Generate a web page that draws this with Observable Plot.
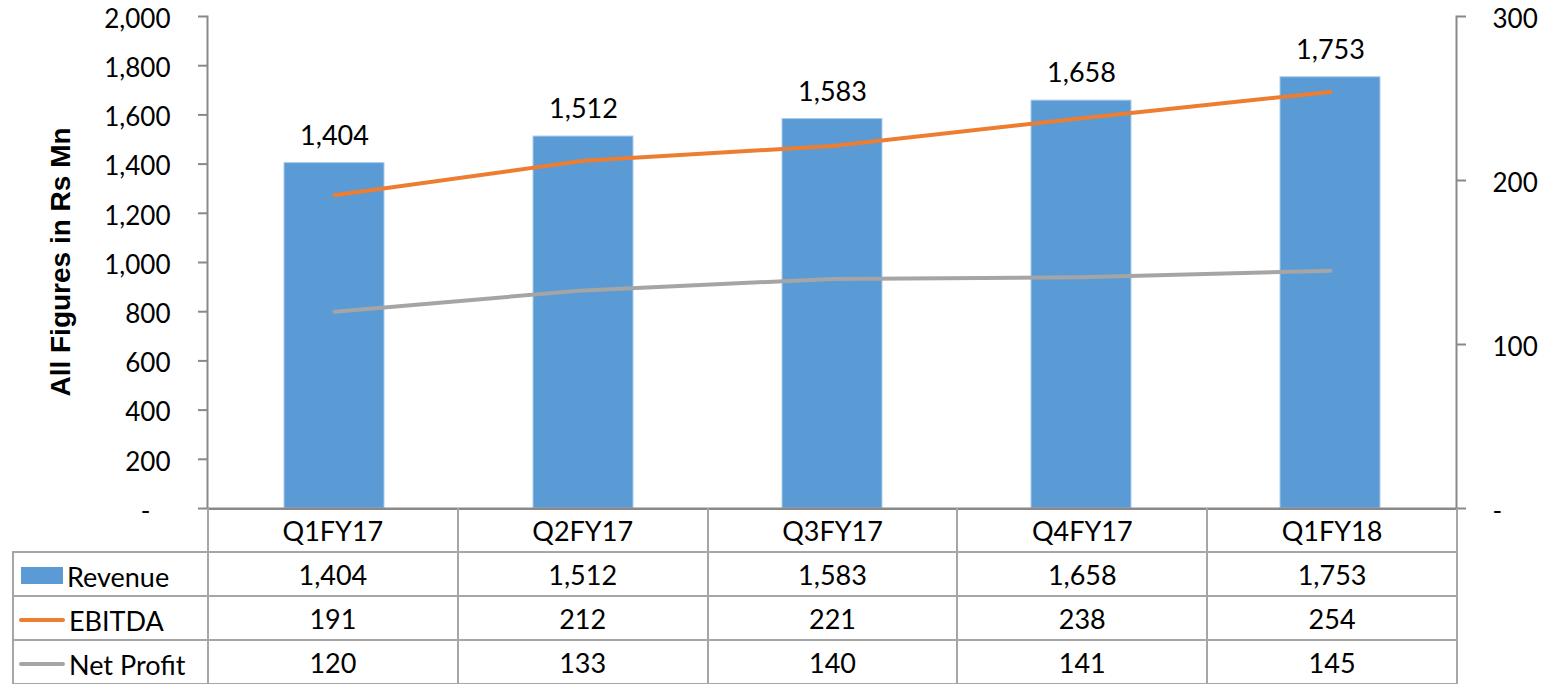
<!DOCTYPE html>
<html>
<head>
<meta charset="utf-8">
<script src="https://cdn.jsdelivr.net/npm/d3@7"></script>
<script src="https://cdn.jsdelivr.net/npm/@observablehq/plot@0.6"></script>
<style>
  html, body { margin: 0; padding: 0; background: #fff; }
  #wrap { position: relative; width: 1549px; height: 684px; overflow: hidden; font-family: Lato, "Open Sans", sans-serif; }
  #chart svg { display: block; }
  #tbl { position: absolute; left: 12px; top: 508px; border-collapse: collapse; table-layout: fixed; font-family: Lato, sans-serif; font-size: 27px; color: #000; }
  #tbl td { border: 2px solid #A6A6A6; text-align: center; padding: 0; white-space: nowrap; }
  #tbl tr.head td { border-top: 2px solid #898989; height: 41px; }
  #tbl tr.head td.corner { border-top: none; border-left: none; }
  #tbl tr.body td { height: 42px; }
  #tbl td.leg { text-align: left; padding-left: 5px; }
  .sw { display: inline-block; vertical-align: middle; margin-right: 4px; }
  .swbar { width: 42px; height: 17px; margin-left: 2px; }
  .swline { width: 46px; height: 4px; border-radius: 2px; }
  .lbl { vertical-align: middle; }
</style>
</head>
<body>
<div id="wrap">
  <div id="chart"></div>
  <table id="tbl"></table>
</div>
<script>
const categories = ["Q1FY17", "Q2FY17", "Q3FY17", "Q4FY17", "Q1FY18"];
const revenue = [1404, 1512, 1583, 1658, 1753];
const ebitda = [191, 212, 221, 238, 254];
const netProfit = [120, 133, 140, 141, 145];
const leftTicks = [0, 200, 400, 600, 800, 1000, 1200, 1400, 1600, 1800, 2000];
const rightTicks = [0, 100, 200, 300];
const seriesNames = ["Revenue", "EBITDA", "Net Profit"];
const seriesColors = ["#5B9BD5", "#ED7D31", "#A5A5A5"];
const axisTitle = "All Figures in Rs Mn";

const leftMax = 2000, rightMax = 300;
const k = leftMax / rightMax;
const fmt = d3.format(",");

const rows = categories.map((q, i) => ({
  q, revenue: revenue[i], ebitda: ebitda[i], net: netProfit[i]
}));
const rightTickPos = rightTicks.map(v => v * k);

const chart = Plot.plot({
  width: 1549,
  height: 532,
  marginTop: 16,
  marginBottom: 24,
  marginLeft: 207,
  marginRight: 93,
  style: { fontFamily: "Lato, sans-serif", fontSize: "27px", color: "#000", background: "transparent" },
  x: { domain: categories, paddingInner: 0.6, paddingOuter: 0.3, axis: null },
  y: { domain: [0, leftMax], axis: null },
  marks: [
    Plot.barY(rows, { x: "q", y: "revenue", fill: seriesColors[0], stroke: "#A9CBEA", strokeWidth: 1 }),
    Plot.line(rows, { x: "q", y: d => d.ebitda * k, stroke: seriesColors[1], strokeWidth: 4, strokeLinecap: "round" }),
    Plot.line(rows, { x: "q", y: d => d.net * k, stroke: seriesColors[2], strokeWidth: 4, strokeLinecap: "round" }),
    Plot.text(rows, { x: "q", y: "revenue", text: d => fmt(d.revenue), dy: -27, fill: "#000" }),
    Plot.frame({ anchor: "left", stroke: "#898989", strokeWidth: 2 }),
    Plot.frame({ anchor: "right", stroke: "#898989", strokeWidth: 2 }),
    Plot.ruleY([0], { stroke: "#898989", strokeWidth: 2 }),
    Plot.axisY({
      anchor: "left", ticks: leftTicks, tickSize: 9, label: null, text: null,
      stroke: "#898989", strokeWidth: 2
    }),
    Plot.axisY({
      anchor: "right", ticks: rightTickPos, tickSize: 9, label: null, text: null,
      stroke: "#898989", strokeWidth: 2
    }),
    Plot.text(leftTicks, {
      y: d => d, frameAnchor: "left", textAnchor: "end", dx: -37, dy: 3, fontSize: 26, fill: "#000",
      text: d => d === 0 ? "-\u00a0\u00a0\u00a0" : fmt(d)
    }),
    Plot.text(rightTickPos, {
      y: d => d, frameAnchor: "right", textAnchor: "start", dx: 36, dy: 3, fontSize: 26, fill: "#000",
      text: d => { const v = Math.round(d / k); return v === 0 ? "-" : fmt(v); }
    })
  ]
});
document.getElementById("chart").appendChild(chart);

// axis title (as real SVG text)
const svg = d3.select(chart);
svg.append("text")
  .attr("transform", "translate(70,262) rotate(-90)")
  .attr("text-anchor", "middle")
  .style("font-family", "'Liberation Sans', Arial, sans-serif")
  .style("font-weight", "bold")
  .style("font-size", "28px")
  .attr("fill", "#000")
  .text(axisTitle);

// data table
const tbl = d3.select("#tbl");
const colgroup = tbl.append("colgroup");
colgroup.append("col").style("width", "195px");
categories.forEach(() => colgroup.append("col").style("width", "249.8px"));
const head = tbl.append("tr").attr("class", "head");
head.append("td").attr("class", "corner");
categories.forEach(c => head.append("td").text(c));
const seriesVals = [revenue, ebitda, netProfit];
seriesNames.forEach((name, si) => {
  const tr = tbl.append("tr").attr("class", "body");
  const leg = tr.append("td").attr("class", "leg");
  leg.append("span").attr("class", "sw " + (si === 0 ? "swbar" : "swline")).style("background", seriesColors[si]);
  leg.append("span").attr("class", "lbl").text(name);
  seriesVals[si].forEach(v => tr.append("td").text(fmt(v)));
});
</script>
</body>
</html>
